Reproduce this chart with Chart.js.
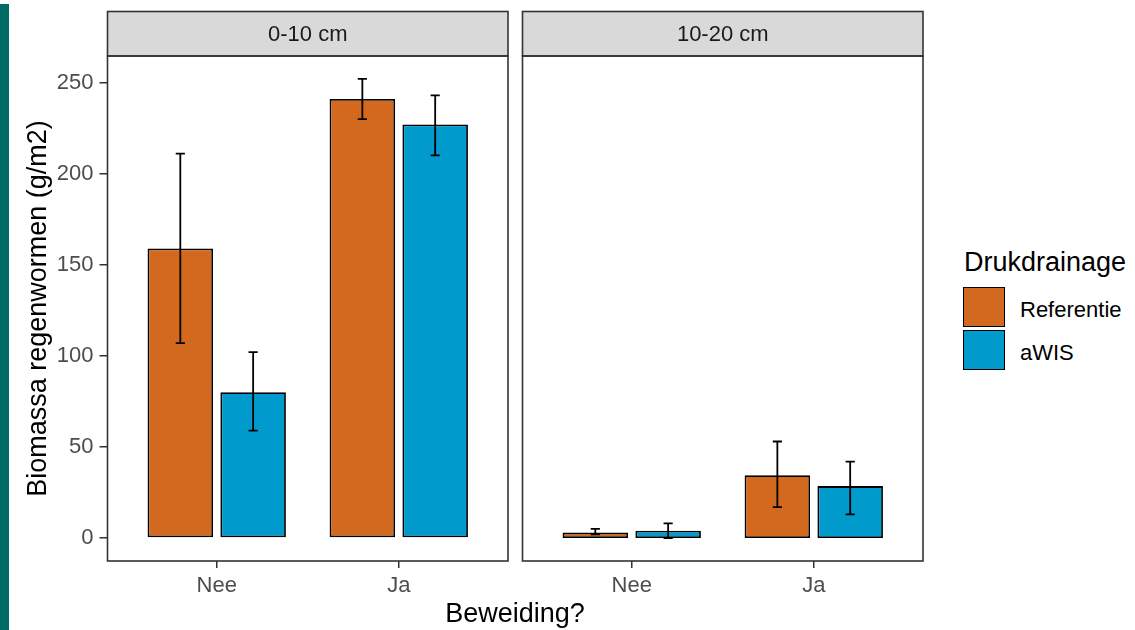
<!DOCTYPE html>
<html>
<head>
<meta charset="utf-8">
<script src="https://cdn.jsdelivr.net/npm/chart.js@4.4.1/dist/chart.umd.min.js"></script>
<style>
  body { margin: 0; width: 1135px; height: 630px; background: #fff; position: relative; overflow: hidden;
         font-family: 'Liberation Sans', Arial, sans-serif; }
  #edge { position: absolute; left: 0; top: 4px; width: 9px; height: 626px; background: #006a64; }
  .panel { position: absolute; top: 0; height: 630px; }
  #left { left: 0; width: 515px; }
  #right { left: 515px; width: 415px; }
  #xtitle { position: absolute; left: 0; width: 1030px; top: 597px; text-align: center; font-size: 27px; line-height: 32px; color: #000; }
  #legendTitle { position: absolute; left: 964px; top: 246px; font-size: 27px; line-height: 32px; color: #000; }
  .key { position: absolute; left: 963px; width: 40px; height: 38px; border: 1.6px solid #000; }
  .keyLabel { position: absolute; left: 1020px; font-size: 22px; line-height: 26px; color: #000; }
</style>
</head>
<body>
<div id="edge"></div>
<div class="panel" id="left"><canvas id="chartLeft"></canvas></div>
<div class="panel" id="right"><canvas id="chartRight"></canvas></div>
<div id="xtitle">Beweiding?</div>
<div id="legend"><div id="legendTitle">Drukdrainage</div></div>
<script>
// categories and groups
const categories = ['Nee', 'Ja'];
const seriesNames = ['Referentie', 'aWIS'];
const seriesColors = ['#D2691E', '#009ACD'];
const facets = ['0-10 cm', '10-20 cm'];

// 0-10 cm: means and error bar ends
const ref0_10 = [159, 241];
const ref0_10Lo = [107, 230];
const ref0_10Hi = [211, 252];
const awis0_10 = [80, 227];
const awis0_10Lo = [59, 210];
const awis0_10Hi = [102, 243];

// 10-20 cm
const ref10_20 = [3, 34.5];
const ref10_20Lo = [2, 17];
const ref10_20Hi = [5, 53];
const awis10_20 = [4, 28.5];
const awis10_20Lo = [0, 13];
const awis10_20Hi = [8, 42];

const yTicks = [0, 50, 100, 150, 200, 250];

const FONT = "'Liberation Sans', Arial, sans-serif";
Chart.defaults.font.family = FONT;

// shared y range like ggplot (5% expansion around 0..max)
const yTop = Math.max(...ref0_10Hi, ...awis0_10Hi, ...ref10_20Hi, ...awis10_20Hi);
const yMin = -0.05 * yTop;
const yMax = 1.05 * yTop;

// strip on top + panel border
const panelDecor = {
  id: 'panelDecor',
  afterDraw(chart, args, opts) {
    const { ctx, chartArea: a } = chart;
    ctx.save();
    ctx.fillStyle = '#D9D9D9';
    ctx.fillRect(a.left, 11.5, a.right - a.left, a.top - 11.5);
    ctx.strokeStyle = '#333333';
    ctx.lineWidth = 1.6;
    ctx.strokeRect(a.left, 11.5, a.right - a.left, a.top - 11.5);
    ctx.strokeRect(a.left, a.top, a.right - a.left, a.bottom - a.top);
    ctx.fillStyle = '#1A1A1A';
    ctx.font = '22px ' + FONT;
    ctx.textAlign = 'center';
    ctx.textBaseline = 'middle';
    ctx.fillText(opts.label, (a.left + a.right) / 2, (11.5 + a.top) / 2 + 1);
    ctx.restore();
  }
};

// error bars from errLo / errHi on each dataset
const errorBars = {
  id: 'errorBars',
  afterDatasetsDraw(chart) {
    const { ctx } = chart;
    const y = chart.scales.y;
    ctx.save();
    ctx.strokeStyle = '#000';
    ctx.lineWidth = 1.8;
    chart.data.datasets.forEach((ds, di) => {
      chart.getDatasetMeta(di).data.forEach((bar, i) => {
        const lo = y.getPixelForValue(ds.errLo[i]);
        const hi = y.getPixelForValue(ds.errHi[i]);
        const half = bar.width * 0.07;
        ctx.beginPath();
        ctx.moveTo(bar.x, lo); ctx.lineTo(bar.x, hi);
        ctx.moveTo(bar.x - half, lo); ctx.lineTo(bar.x + half, lo);
        ctx.moveTo(bar.x - half, hi); ctx.lineTo(bar.x + half, hi);
        ctx.stroke();
      });
    });
    ctx.restore();
  }
};

function makeDataset(name, color, vals, lo, hi) {
  return {
    label: name,
    data: categories.map((c, i) => ({ x: i + 1, y: vals[i] })),
    errLo: lo,
    errHi: hi,
    backgroundColor: color,
    borderColor: '#000',
    borderWidth: 1.8,
    borderSkipped: false,
    categoryPercentage: 0.8,
    barPercentage: 0.9
  };
}

function makePanel(id, facet, sets, showY, padLeft) {
  return new Chart(document.getElementById(id), {
    type: 'bar',
    data: { datasets: sets },
    options: {
      responsive: true,
      maintainAspectRatio: false,
      devicePixelRatio: 1,
      animation: false,
      events: [],
      layout: { padding: { top: 56, left: padLeft, right: 7, bottom: 0 } },
      plugins: {
        legend: { display: false },
        tooltip: { enabled: false },
        panelDecor: { label: facet }
      },
      scales: {
        x: {
          type: 'linear',
          min: 0.4,
          max: 2.6,
          offset: false,
          afterBuildTicks: s => { s.ticks = categories.map((c, i) => ({ value: i + 1 })); },
          afterFit: s => { s.height = 69; },
          grid: { offset: false, drawOnChartArea: false, drawTicks: true, tickLength: 7, color: '#333333', lineWidth: 1.5 },
          border: { display: false },
          ticks: {
            color: '#4D4D4D', font: { size: 22 }, padding: 5, maxRotation: 0, autoSkip: false,
            callback: (v, i) => categories[i]
          }
        },
        y: {
          display: showY,
          min: yMin,
          max: yMax,
          afterBuildTicks: s => { s.ticks = yTicks.map(v => ({ value: v })); },
          afterFit: s => { s.width = showY ? 107.5 : 0; },
          grid: { drawOnChartArea: false, drawTicks: true, tickLength: 8, color: '#333333', lineWidth: 1.5 },
          border: { display: false },
          ticks: { color: '#4D4D4D', font: { size: 22 }, padding: 6 },
          title: {
            display: showY, text: 'Biomassa regenwormen (g/m2)', color: '#000',
            font: { size: 27 }, padding: { top: 22, bottom: 0 }
          }
        }
      }
    },
    plugins: [errorBars, panelDecor]
  });
}

makePanel('chartLeft', facets[0], [
  makeDataset(seriesNames[0], seriesColors[0], ref0_10, ref0_10Lo, ref0_10Hi),
  makeDataset(seriesNames[1], seriesColors[1], awis0_10, awis0_10Lo, awis0_10Hi)
], true, 0);

makePanel('chartRight', facets[1], [
  makeDataset(seriesNames[0], seriesColors[0], ref10_20, ref10_20Lo, ref10_20Hi),
  makeDataset(seriesNames[1], seriesColors[1], awis10_20, awis10_20Lo, awis10_20Hi)
], false, 7.5);

// legend keys
const legend = document.getElementById('legend');
seriesNames.forEach((name, i) => {
  const key = document.createElement('div');
  key.className = 'key';
  key.style.top = (287 + i * 43) + 'px';
  key.style.background = seriesColors[i];
  legend.appendChild(key);
  const lab = document.createElement('div');
  lab.className = 'keyLabel';
  lab.style.top = (297 + i * 43) + 'px';
  lab.textContent = name;
  legend.appendChild(lab);
});
</script>
</body>
</html>
